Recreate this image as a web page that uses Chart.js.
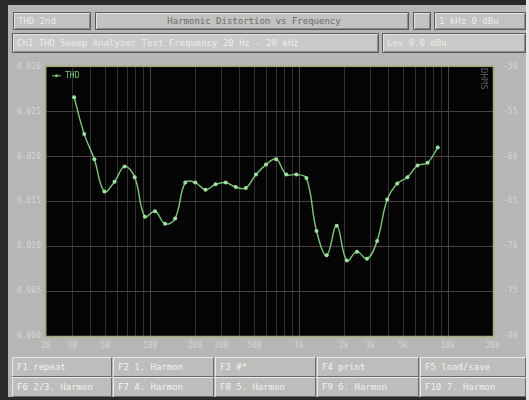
<!DOCTYPE html>
<html>
<head>
<meta charset="utf-8">
<script src="https://cdn.jsdelivr.net/npm/chart.js@4.4.1/dist/chart.umd.min.js"></script>
<style>
  html, body { margin: 0; padding: 0; }
  body { width: 529px; height: 400px; background: #2a2a2a; position: relative; overflow: hidden;
         font-family: "DejaVu Sans Mono", "Liberation Mono", monospace; }
  #panel { position: absolute; left: 8px; top: 5px; width: 519px; height: 392px; background: #b6b6b4; }
  #edge { position: absolute; left: 526px; top: 0; width: 3px; height: 400px; background: #e6e6e6; }
  .box { position: absolute; box-sizing: border-box; border: 1px solid #5a5a5a; background: #c2c2c0;
         color: #ececec; font-size: 9px; white-space: nowrap; overflow: hidden; padding-left: 4px;
         box-shadow: inset 1px 1px 0 #e4e4e4, inset -1px -1px 0 #8a8a8a; }
  .btn { position: absolute; box-sizing: border-box; background: #bdbdbb; color: #f2f2f2; font-size: 9px;
         white-space: nowrap; overflow: hidden; padding-left: 4px; line-height: 18px;
         border-top: 1px solid #e8e8e8; border-left: 1px solid #e8e8e8;
         border-right: 1px solid #6a6a6a; border-bottom: 1px solid #6a6a6a; }
  #chartBox { position: absolute; left: 10px; top: 52px; width: 516px; height: 304px; }
  #vtag { position: absolute; left: 479px; top: 68px; writing-mode: vertical-rl; color: #5a5a5a;
          font-size: 9px; }
</style>
</head>
<body>
<div id="panel"></div>
<div id="edge"></div>

<div class="box" style="left:13px;top:12px;width:78px;height:18px;line-height:16px;">THD 2nd</div>
<div class="box" style="left:95px;top:12px;width:314px;height:18px;line-height:16px;text-align:center;color:#6a6a6a;">Harmonic Distortion vs Frequency</div>
<div class="box" style="left:413px;top:12px;width:18px;height:18px;"></div>
<div class="box" style="left:434px;top:12px;width:92px;height:18px;line-height:16px;">1 kHz  0 dBu</div>
<div class="box" style="left:12px;top:33px;width:367px;height:20px;line-height:18px;background:#c9c9c7;">Ch1 THD Sweep Analyzer   Test Frequency 20 Hz - 20 kHz</div>
<div class="box" style="left:382px;top:33px;width:144px;height:20px;line-height:18px;background:#c9c9c7;">Lev 0.0 dBu</div>

<div id="chartBox"><canvas id="thd_chart"></canvas></div>
<div id="vtag">DHMS</div>

<div class="btn" style="left:12px;top:357px;width:100px;height:20px;">F1 repeat</div>
<div class="btn" style="left:113px;top:357px;width:101px;height:20px;">F2 1. Harmon</div>
<div class="btn" style="left:215px;top:357px;width:101px;height:20px;">F3      #*</div>
<div class="btn" style="left:317px;top:357px;width:102px;height:20px;">F4 print</div>
<div class="btn" style="left:420px;top:357px;width:106px;height:20px;">F5 load/save</div>
<div class="btn" style="left:12px;top:377px;width:100px;height:20px;">F6 2/3. Harmon</div>
<div class="btn" style="left:113px;top:377px;width:101px;height:20px;">F7 4. Harmon</div>
<div class="btn" style="left:215px;top:377px;width:101px;height:20px;">F8 5. Harmon</div>
<div class="btn" style="left:317px;top:377px;width:102px;height:20px;">F9 6. Harmon</div>
<div class="btn" style="left:420px;top:377px;width:106px;height:20px;">F10 7. Harmon</div>

<script>
// Frequenz (Hz) und THD (%) der Messpunkte
const freqs = [30.9, 36.1, 42.2, 49.3, 57.7, 67.4, 78.8, 92.1, 107.7, 125.9,
  147.1, 172.0, 201.0, 235.0, 274.7, 321.1, 375.3, 438.7, 512.8, 599.4,
  700.6, 819.0, 957.3, 1119, 1308, 1529, 1787, 2089, 2442, 2854,
  3336, 3900, 4558, 5328, 6228, 7280, 8510];
const thdValues = [0.0266, 0.0225, 0.0197, 0.0161, 0.0172, 0.0189, 0.0177, 0.0133, 0.0139, 0.0125,
  0.0131, 0.0171, 0.0171, 0.0163, 0.0169, 0.0171, 0.0166, 0.0165, 0.0180, 0.0191,
  0.0197, 0.0180, 0.0180, 0.0176, 0.0117, 0.0090, 0.0123, 0.0084, 0.0094, 0.0086,
  0.0106, 0.0152, 0.0170, 0.0177, 0.0190, 0.0193, 0.0210];

const gridFreqs = [20, 30, 40, 50, 60, 70, 80, 90, 100, 200, 300, 400, 500, 600, 700, 800, 900,
  1000, 2000, 3000, 4000, 5000, 6000, 7000, 8000, 9000, 10000, 20000];
const labelFreqs = [20, 30, 50, 100, 200, 300, 500, 1000, 2000, 3000, 5000, 10000, 20000];
const labelTexts = ['20', '30', '50', '100', '200', '300', '500', '1k', '2k', '3k', '5k', '10k', '20k'];

const tickFont = { family: '"DejaVu Sans Mono", monospace', size: 8 };
const tickColor = '#d6d6d6';
const traceColor = '#7bc77b';

// schwarzer Plotbereich, Rahmen und Legende oben links
const plotFrame = {
  id: 'plotFrame',
  beforeDraw(chart) {
    const { ctx, chartArea: a } = chart;
    ctx.save();
    ctx.fillStyle = '#040404';
    ctx.fillRect(a.left, a.top, a.width, a.height);
    ctx.restore();
  },
  afterDraw(chart) {
    const { ctx, chartArea: a } = chart;
    ctx.save();
    ctx.strokeStyle = '#a9a97a';
    ctx.lineWidth = 1.5;
    ctx.strokeRect(a.left - 0.5, a.top - 0.5, a.width + 1, a.height + 1);
    // legend
    const ly = a.top + 9;
    ctx.strokeStyle = traceColor;
    ctx.lineWidth = 1;
    ctx.beginPath();
    ctx.moveTo(a.left + 6, ly);
    ctx.lineTo(a.left + 15, ly);
    ctx.stroke();
    ctx.fillStyle = traceColor;
    ctx.beginPath();
    ctx.arc(a.left + 10.5, ly, 1.5, 0, Math.PI * 2);
    ctx.fill();
    ctx.font = '8px "DejaVu Sans Mono", monospace';
    ctx.textBaseline = 'middle';
    ctx.fillText(chart.data.datasets[0].label, a.left + 19, ly);
    ctx.restore();
  }
};

window.addEventListener("load", () => {
  const ctx = document.getElementById('thd_chart');
  const data = {
    datasets: [{
      label: 'THD',
      data: freqs.map((f, i) => ({ x: f, y: thdValues[i] })),
      borderColor: traceColor,
      backgroundColor: '#9ee09e',
      borderWidth: 1.4,
      pointRadius: 2,
      pointBorderWidth: 0,
      tension: 0.4,
      fill: false,
      yAxisID: 'y'
    }]
  };

  const config = {
    type: 'line',
    data: data,
    options: {
      responsive: true,
      maintainAspectRatio: false,
      animation: false,
      layout: { padding: 0 },
      plugins: {
        tooltip: { enabled: false },
        legend: { display: false }
      },
      scales: {
        x: {
          type: 'logarithmic',
          min: 20,
          max: 20000,
          afterBuildTicks: (scale) => { scale.ticks = gridFreqs.map(v => ({ value: v })); },
          afterFit: (scale) => { scale.height = 20; },
          border: { display: false },
          grid: {
            drawTicks: false,
            color: (c) => [100, 1000, 10000].includes(c.tick && c.tick.value) ? '#4a4646' : '#333131'
          },
          ticks: {
            autoSkip: false,
            maxRotation: 0,
            minRotation: 0,
            padding: 5,
            color: tickColor,
            font: tickFont,
            callback: (value) => {
              const i = labelFreqs.indexOf(value);
              return i >= 0 ? labelTexts[i] : '';
            }
          }
        },
        y: {
          position: 'left',
          min: 0,
          max: 0.03,
          afterFit: (scale) => { scale.width = 36; },
          border: { display: false },
          grid: { drawTicks: false, color: '#4a4242' },
          ticks: {
            stepSize: 0.005,
            padding: 5,
            color: tickColor,
            font: tickFont,
            callback: (v) => v.toFixed(3)
          }
        },
        y2: {
          position: 'right',
          min: -80,
          max: -50,
          afterFit: (scale) => { scale.width = 33; },
          border: { display: false },
          grid: { display: false, drawTicks: false },
          ticks: {
            stepSize: 5,
            padding: 10,
            color: tickColor,
            font: tickFont
          }
        }
      }
    },
    plugins: [plotFrame]
  };

  window.thdChart = new Chart(ctx, config);
});
</script>
</body>
</html>
